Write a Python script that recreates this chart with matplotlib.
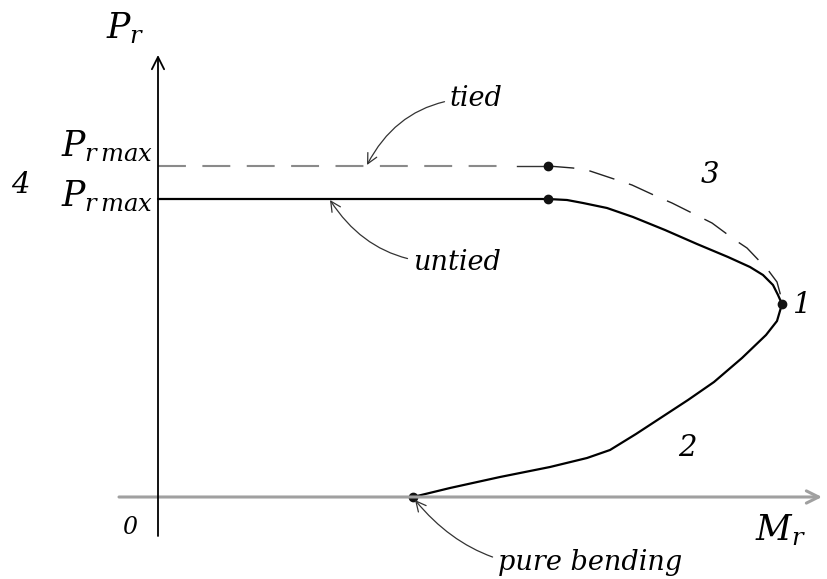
import numpy as np
import matplotlib.pyplot as plt

plt.rcParams['mathtext.fontset'] = 'dejavuserif'
plt.rcParams['font.family'] = 'DejaVu Serif'

# interaction curve, moment M_r vs axial force P_r (arbitrary units)
p_untied = 2.98
p_tied = 3.31
m_knee = 3.90
m_pure = 2.55
pt1 = (6.24, 1.93)

# untied branch: plateau, then down to point 1
untied_m = [0.0, 3.90, 4.09, 4.25, 4.49, 4.75, 5.07, 5.39, 5.70, 5.92, 6.05,
            6.15, 6.20, 6.24]
untied_p = [2.98, 2.98, 2.97, 2.94, 2.89, 2.80, 2.67, 2.53, 2.40, 2.30, 2.22,
            2.12, 2.02, 1.93]

# tied branch past the knee (dashed)
tied_m = [3.90, 4.15, 4.32, 4.59, 4.74, 5.00, 5.14, 5.40, 5.54, 5.77, 5.89,
          6.10, 6.19, 6.22, 6.24]
tied_p = [3.31, 3.29, 3.26, 3.17, 3.12, 3.00, 2.94, 2.81, 2.74, 2.57, 2.49,
          2.27, 2.15, 2.04, 1.93]

# branch 2, from pure bending up to point 1
low_m = [2.55, 2.92, 3.42, 3.92, 4.29, 4.52, 4.78, 5.04, 5.30, 5.56, 5.84,
         6.08, 6.19, 6.24]
low_p = [0.00, 0.09, 0.20, 0.30, 0.39, 0.47, 0.63, 0.80, 0.97, 1.15, 1.39,
         1.62, 1.76, 1.93]

fig = plt.figure(figsize=(8.27, 5.79), dpi=100)
ax = fig.add_axes([0, 0, 1, 1])
ax.set_xlim(-1.58, 6.69)
ax.set_ylim(-0.82, 4.97)
ax.axis('off')

# axes with open arrow heads
ax.annotate('', xy=(6.64, 0), xytext=(-0.39, 0),
            arrowprops=dict(arrowstyle='->', color='#a0a0a0', lw=2.2,
                            mutation_scale=22, shrinkA=0, shrinkB=0))
ax.annotate('', xy=(0, 4.42), xytext=(0, -0.39),
            arrowprops=dict(arrowstyle='->', color='black', lw=1.3,
                            mutation_scale=22, shrinkA=0, shrinkB=0))

# tied: gray dashes along the plateau, finer dark dashes on the curve
ax.plot([0, m_knee - 0.38], [p_tied, p_tied], color='#8a8a8a', lw=1.5,
        dashes=(13.4, 7.9))
ax.plot([m_knee - 0.31, m_knee], [p_tied, p_tied], color='#333333', lw=1.0)
ax.plot(tied_m, tied_p, color='#222222', lw=1.0, dashes=(19, 11),
        dash_joinstyle='round')

ax.plot(untied_m, untied_p, color='black', lw=1.6, solid_capstyle='round',
        solid_joinstyle='round')
ax.plot(low_m, low_p, color='black', lw=1.6, solid_capstyle='round',
        solid_joinstyle='round')

ax.plot([m_knee, m_knee, m_pure, pt1[0]], [p_tied, p_untied, 0, pt1[1]], 'o',
        color='#111111', ms=6)

# labels
ax.text(-0.33, 4.69, r'$P_r$', fontsize=25, ha='center', va='center')
ax.text(-0.05, 3.50, r'$P_{r\,max}$', fontsize=25, ha='right', va='center')
ax.text(-0.05, 3.00, r'$P_{r\,max}$', fontsize=25, ha='right', va='center')
ax.text(-1.38, 3.12, '4', fontsize=21, style='italic', ha='center', va='center')
ax.text(-0.28, -0.31, '0', fontsize=17, style='italic', ha='center', va='center')
ax.text(6.22, -0.33, r'$M_r$', fontsize=25, ha='center', va='center')
ax.text(5.52, 3.22, '3', fontsize=21, style='italic', ha='center', va='center')
ax.text(6.44, 1.92, '1', fontsize=21, style='italic', ha='center', va='center')
ax.text(5.29, 0.49, '2', fontsize=21, style='italic', ha='center', va='center')

ann = dict(arrowstyle='->', color='#333333', lw=0.9, mutation_scale=18,
           shrinkA=2, shrinkB=0)
ax.annotate('tied', xy=(2.09, 3.32), xytext=(2.92, 3.99), fontsize=19.5,
            style='italic', ha='left', va='center',
            arrowprops=dict(ann, connectionstyle='arc3,rad=0.3'))
ax.annotate('untied', xy=(1.72, 2.97), xytext=(2.55, 2.35), fontsize=19.5,
            style='italic', ha='left', va='center',
            arrowprops=dict(ann, connectionstyle='arc3,rad=-0.3'))
ax.annotate('pure bending', xy=(2.57, -0.03), xytext=(3.40, -0.65),
            fontsize=19.5, style='italic', ha='left', va='center',
            arrowprops=dict(ann, connectionstyle='arc3,rad=-0.3'))

fig.savefig('out.png', dpi=100)
